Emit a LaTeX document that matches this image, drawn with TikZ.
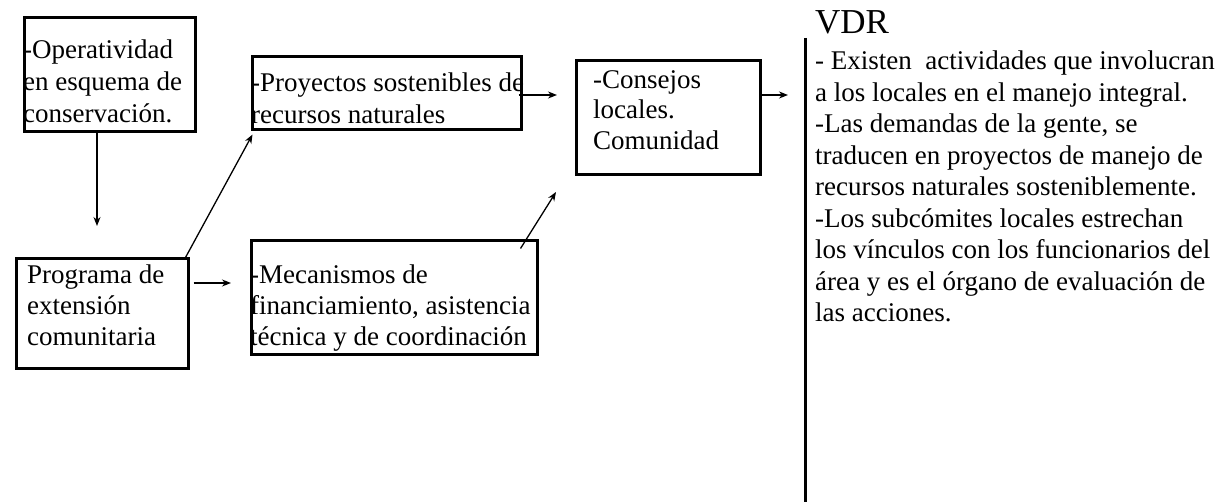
\documentclass[tikz,border=0pt]{standalone}
\usepackage{fontspec}
\setmainfont{Liberation Serif}
\usetikzlibrary{arrows.meta}
\begin{document}
\begin{tikzpicture}[x=1pt,y=-1pt,
  box/.style={draw, line width=3pt, inner sep=0pt, anchor=north west},
  txt/.style={inner sep=0pt, anchor=north west, align=left, font=\fontsize{27}{31}\selectfont},
  rtxt/.style={inner sep=0pt, anchor=north west, align=left, font=\fontsize{27}{31.5}\selectfont},
  arr/.style={line width=1.3pt, -{Stealth[length=9pt,width=7pt]}},
  bar/.style={line width=3pt}
]
\useasboundingbox (0,0) rectangle (1221,502);
% boxes
\node[box, minimum width=171pt, minimum height=114pt] (b1) at (22.5,16.5) {};
\node[box, minimum width=269pt, minimum height=73pt] (b2) at (250.5,55.5) {};
\node[box, minimum width=172pt, minimum height=110pt] (b3) at (14.5,257.5) {};
\node[box, minimum width=286pt, minimum height=114pt] (b4) at (249.5,239.5) {};
\node[box, minimum width=184pt, minimum height=114pt] (b5) at (574.5,59.5) {};
% texts
\node[txt, font=\fontsize{27}{32}\selectfont] (t1) at (23,40) {-Operatividad\\en esquema de\\conservación.};
\node[txt, font=\fontsize{27}{32}\selectfont] (t2) at (251,73) {-Proyectos sostenibles de\\recursos naturales};
\node[txt] (t3) at (27,265) {Programa de\\extensión\\comunitaria};
\node[txt] (t4) at (250,265) {-Mecanismos de\\financiamiento, asistencia\\técnica y de coordinación};
\node[txt, font=\fontsize{27}{30.5}\selectfont] (t5) at (593,70) {-Consejos\\locales.\\Comunidad};
\node[inner sep=0pt, anchor=base west, font=\fontsize{35}{40}\selectfont] (vdr) at (815,34) {VDR};
\node[rtxt] (t6) at (815,51) {- Existen\ \ actividades que involucran\\a los locales en el manejo integral.\\-Las demandas de la gente, se\\traducen en proyectos de manejo de\\recursos naturales sosteniblemente.\\-Los subcómites locales estrechan\\los vínculos con los funcionarios del\\área y es el órgano de evaluación de\\las acciones.};
% free ends
\coordinate (a1e) at (97,226);
\coordinate (a2e) at (231,283);
\coordinate (a3e) at (557,95);
\coordinate (a4e) at (556,192);
\coordinate (a5e) at (788,95);
\coordinate (vt) at (805,38);
\coordinate (vb) at (805,502);
% connectors
\draw[arr] (a1e |- b1.south) -- (a1e);
\draw[arr, shorten <=4pt] (b3.east |- a2e) -- (a2e);
\draw[arr] ([xshift=-4pt]b3.north east) -- ([shift={(2pt,-3pt)}]b2.south west);
\draw[arr] ([xshift=-4pt]b2.east |- a3e) -- (a3e);
\draw[arr] ([shift={(-18pt,-9pt)}]b4.north east) -- (a4e);
\draw[arr] (b5.east |- a5e) -- (a5e);
\draw[bar] (vt) -- (vb);
\end{tikzpicture}
\end{document}
